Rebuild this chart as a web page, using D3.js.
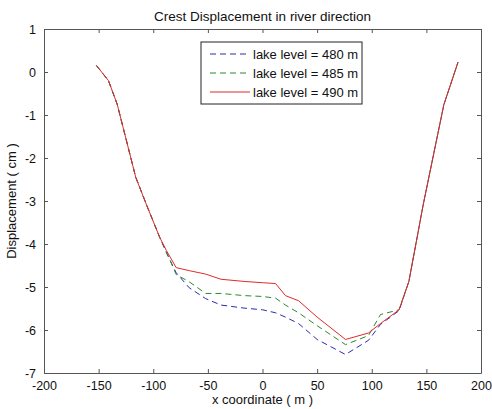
<!DOCTYPE html>
<html>
<head>
<meta charset="utf-8">
<script src="https://cdn.jsdelivr.net/npm/d3@7"></script>
<style>
  body { margin: 0; background: #fff; }
  svg text { font-family: "Liberation Sans", Arial, sans-serif; fill: #111; }
</style>
</head>
<body>
<script>
// x positions shared by the three runs (m)
var xCoord = [-152, -141, -133, -116, -106, -94, -88, -79, -67, -52, -38, -17, 0, 12, 21, 33, 50, 76, 97, 108, 125, 134, 147, 166, 179];
// crest displacement (cm)
var level480 = [0.15, -0.2, -0.75, -2.45, -3.1, -3.85, -4.2, -4.67, -5.02, -5.27, -5.42, -5.49, -5.53, -5.6, -5.7, -5.85, -6.22, -6.57, -6.24, -5.87, -5.55, -4.87, -3.1, -0.76, 0.23];
var level485 = [0.15, -0.2, -0.75, -2.45, -3.1, -3.85, -4.18, -4.71, -4.88, -5.15, -5.15, -5.2, -5.22, -5.26, -5.42, -5.6, -5.9, -6.34, -6.13, -5.64, -5.53, -4.87, -3.1, -0.76, 0.23];
var level490 = [0.15, -0.2, -0.75, -2.45, -3.1, -3.85, -4.15, -4.55, -4.62, -4.7, -4.82, -4.87, -4.9, -4.92, -5.2, -5.32, -5.7, -6.22, -6.07, -5.85, -5.53, -4.87, -3.1, -0.76, 0.23];
var seriesNames = ["lake level = 480 m", "lake level = 485 m", "lake level = 490 m"];
var xTicks = [-200, -150, -100, -50, 0, 50, 100, 150, 200];
var yTicks = [1, 0, -1, -2, -3, -4, -5, -6, -7];

var margin = {top: 29, right: 11, bottom: 36, left: 44},
    width = 492 - margin.left - margin.right,
    height = 409 - margin.top - margin.bottom;

var svg = d3.select("body").append("svg")
    .attr("width", 492)
    .attr("height", 409);
var g = svg.append("g")
    .attr("transform", "translate(" + margin.left + "," + margin.top + ")");

var x = d3.scaleLinear().domain([-200, 200]).range([0, width]);
var y = d3.scaleLinear().domain([-7, 1]).range([height, 0]);

// plain hyphen minus like matlab
var plain = function(d) { return String(d); };

// axes, ticks pointing inward on all four sides
g.append("g")
    .attr("class", "axis")
    .attr("transform", "translate(0," + height + ")")
    .call(d3.axisBottom(x).tickValues(xTicks).tickFormat(plain).tickSizeInner(-4).tickSizeOuter(0).tickPadding(8));
g.append("g")
    .attr("class", "axis")
    .call(d3.axisLeft(y).tickValues(yTicks).tickFormat(plain).tickSizeInner(-4).tickSizeOuter(0).tickPadding(8));
g.append("g")
    .attr("class", "axis noLabel")
    .call(d3.axisTop(x).tickValues(xTicks).tickSizeInner(-4).tickSizeOuter(0));
g.append("g")
    .attr("class", "axis noLabel")
    .attr("transform", "translate(" + width + ",0)")
    .call(d3.axisRight(y).tickValues(yTicks).tickSizeInner(-4).tickSizeOuter(0));

g.selectAll(".noLabel text").remove();
g.selectAll(".axis path, .axis line").attr("stroke", "#555");
g.selectAll(".axis text").attr("font-size", "12.5px").attr("fill", "#111");

var runs = [
  {name: seriesNames[0], values: level480, color: "#2b2bb0", dash: "6,4"},
  {name: seriesNames[1], values: level485, color: "#2a8a2a", dash: "6,4"},
  {name: seriesNames[2], values: level490, color: "#e02a2a", dash: null}
];

var line = d3.line()
    .x(function(d) { return x(d[0]); })
    .y(function(d) { return y(d[1]); });

runs.forEach(function(r) {
  g.append("path")
      .datum(xCoord.map(function(v, i) { return [v, r.values[i]]; }))
      .attr("fill", "none")
      .attr("stroke", r.color)
      .attr("stroke-width", 1)
      .attr("stroke-dasharray", r.dash)
      .attr("d", line);
});

// legend
var leg = svg.append("g").attr("transform", "translate(201,42)");
leg.append("rect")
    .attr("width", 161).attr("height", 62)
    .attr("fill", "#fff").attr("stroke", "#222");
runs.forEach(function(r, i) {
  var ly = 12 + i * 19;
  leg.append("line")
      .attr("x1", 9).attr("x2", 49).attr("y1", ly).attr("y2", ly)
      .attr("stroke", r.color).attr("stroke-dasharray", r.dash);
  leg.append("text")
      .attr("x", 52).attr("y", ly + 4.5)
      .attr("font-size", "13px")
      .text(r.name);
});

// titles
svg.append("text")
    .attr("x", margin.left + width / 2).attr("y", 21)
    .attr("text-anchor", "middle")
    .attr("font-size", "13.5px")
    .text("Crest Displacement in river direction");
svg.append("text")
    .attr("x", margin.left + width / 2).attr("y", 404)
    .attr("text-anchor", "middle")
    .attr("font-size", "13px")
    .text("x coordinate ( m )");
svg.append("text")
    .attr("transform", "translate(16," + (margin.top + height / 2) + ") rotate(-90)")
    .attr("text-anchor", "middle")
    .attr("font-size", "13px")
    .text("Displacement ( cm )");
</script>
</body>
</html>
